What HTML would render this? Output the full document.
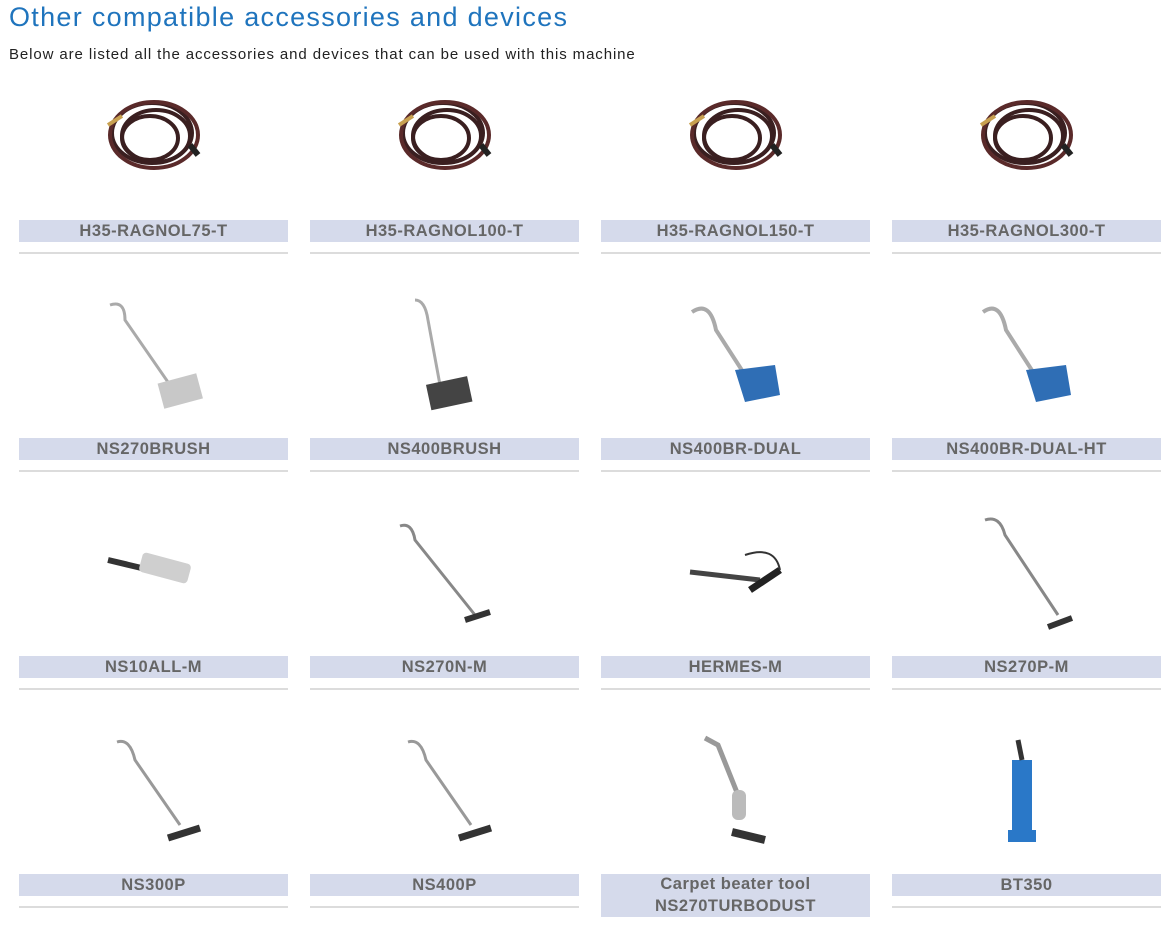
<!DOCTYPE html>
<html><head><meta charset="utf-8"><style>
body{margin:0;width:1170px;height:929px;background:#fff;position:relative;font-family:"Liberation Sans",sans-serif;overflow:hidden}
h1{position:absolute;left:9px;top:2px;margin:0;font-weight:normal;font-size:27px;color:#1f74bd;letter-spacing:1.3px}
p.s{position:absolute;left:9px;top:46px;margin:0;font-size:15px;color:#222;letter-spacing:0.9px}
.l{position:absolute;width:269px;background:#d5daeb;color:#666;font-weight:bold;font-size:16.5px;text-align:center;line-height:22px;letter-spacing:0.5px}
.ln{position:absolute;width:269px;height:2px;background:#dcdcdc}
svg{position:absolute;left:0;top:0}
</style></head><body>
<h1>Other compatible accessories and devices</h1>
<p class="s">Below are listed all the accessories and devices that can be used with this machine</p>

<div class="l" style="left:19px;top:220px">H35-RAGNOL75-T</div>
<div class="l" style="left:310px;top:220px">H35-RAGNOL100-T</div>
<div class="l" style="left:601px;top:220px">H35-RAGNOL150-T</div>
<div class="l" style="left:892px;top:220px">H35-RAGNOL300-T</div>
<div class="ln" style="left:19px;top:252px"></div><div class="ln" style="left:310px;top:252px"></div><div class="ln" style="left:601px;top:252px"></div><div class="ln" style="left:892px;top:252px"></div>

<div class="l" style="left:19px;top:438px">NS270BRUSH</div>
<div class="l" style="left:310px;top:438px">NS400BRUSH</div>
<div class="l" style="left:601px;top:438px">NS400BR-DUAL</div>
<div class="l" style="left:892px;top:438px">NS400BR-DUAL-HT</div>
<div class="ln" style="left:19px;top:470px"></div><div class="ln" style="left:310px;top:470px"></div><div class="ln" style="left:601px;top:470px"></div><div class="ln" style="left:892px;top:470px"></div>

<div class="l" style="left:19px;top:656px">NS10ALL-M</div>
<div class="l" style="left:310px;top:656px">NS270N-M</div>
<div class="l" style="left:601px;top:656px">HERMES-M</div>
<div class="l" style="left:892px;top:656px">NS270P-M</div>
<div class="ln" style="left:19px;top:688px"></div><div class="ln" style="left:310px;top:688px"></div><div class="ln" style="left:601px;top:688px"></div><div class="ln" style="left:892px;top:688px"></div>

<div class="l" style="left:19px;top:874px">NS300P</div>
<div class="l" style="left:310px;top:874px">NS400P</div>
<div class="l" style="left:601px;top:874px;line-height:21.5px">Carpet beater tool<br>NS270TURBODUST</div>
<div class="l" style="left:892px;top:874px">BT350</div>
<div class="ln" style="left:19px;top:906px"></div><div class="ln" style="left:310px;top:906px"></div><div class="ln" style="left:892px;top:906px"></div>

<svg width="1170" height="929">
<defs>
<g id="hose" fill="none" stroke="#3a1f20" stroke-width="4">
<ellipse cx="0" cy="0" rx="40" ry="30"/><ellipse cx="4" cy="3" rx="34" ry="26"/><ellipse cx="-2" cy="5" rx="28" ry="22"/><ellipse cx="2" cy="2" rx="44" ry="33" stroke="#5a2a2a"/>
<path d="M-44 -8 L-30 -17" stroke="#c8a050" stroke-width="4"/><path d="M38 12 L46 22" stroke="#222" stroke-width="6"/>
</g>
</defs>
<use href="#hose" x="152" y="133"/><use href="#hose" x="443" y="133"/><use href="#hose" x="734" y="133"/><use href="#hose" x="1025" y="133"/>
<path d="M110 305 Q125 300 125 320 L170 385" stroke="#aaa" stroke-width="3" fill="none"/><rect x="160" y="378" width="40" height="26" fill="#c8c8c8" transform="rotate(-15 180 390)"/>
<path d="M415 300 Q425 300 428 320 L440 385" stroke="#aaa" stroke-width="3" fill="none"/><rect x="428" y="380" width="42" height="26" fill="#444" transform="rotate(-12 450 392)"/>
<path d="M692 312 Q710 300 716 330 L745 375" stroke="#aaa" stroke-width="4" fill="none"/><polygon points="735,370 775,365 780,395 745,402" fill="#2f6eb5"/>
<path d="M983 312 Q1000 300 1006 330 L1035 375" stroke="#aaa" stroke-width="4" fill="none"/><polygon points="1026,370 1066,365 1071,395 1036,402" fill="#2f6eb5"/>
<path d="M108 560 L150 570" stroke="#333" stroke-width="6"/><rect x="140" y="558" width="50" height="20" fill="#cfcfcf" rx="4" transform="rotate(15 165 568)"/>
<path d="M400 526 Q412 522 415 540 L475 615" stroke="#888" stroke-width="3" fill="none"/><path d="M465 620 L490 612" stroke="#333" stroke-width="6"/>
<path d="M690 572 L760 580" stroke="#444" stroke-width="5"/><path d="M750 590 L780 570" stroke="#222" stroke-width="7"/><path d="M745 555 Q775 545 780 570" stroke="#333" stroke-width="2" fill="none"/>
<path d="M985 520 Q1000 515 1005 535 L1058 615" stroke="#888" stroke-width="3" fill="none"/><path d="M1048 627 L1072 618" stroke="#333" stroke-width="6"/>
<path d="M117 742 Q130 738 135 760 L180 825" stroke="#999" stroke-width="3" fill="none"/><path d="M168 838 L200 828" stroke="#333" stroke-width="7"/>
<path d="M408 742 Q421 738 426 760 L471 825" stroke="#999" stroke-width="3" fill="none"/><path d="M459 838 L491 828" stroke="#333" stroke-width="7"/>
<path d="M705 738 L718 745 L740 800" stroke="#999" stroke-width="5" fill="none"/><rect x="732" y="790" width="14" height="30" rx="6" fill="#bbb"/><path d="M732 832 L765 840" stroke="#333" stroke-width="8"/>
<rect x="1012" y="760" width="20" height="80" fill="#2a78c8"/><path d="M1018 740 L1022 760" stroke="#333" stroke-width="5"/><rect x="1008" y="830" width="28" height="12" fill="#2a78c8"/>
</svg>
</body></html>
